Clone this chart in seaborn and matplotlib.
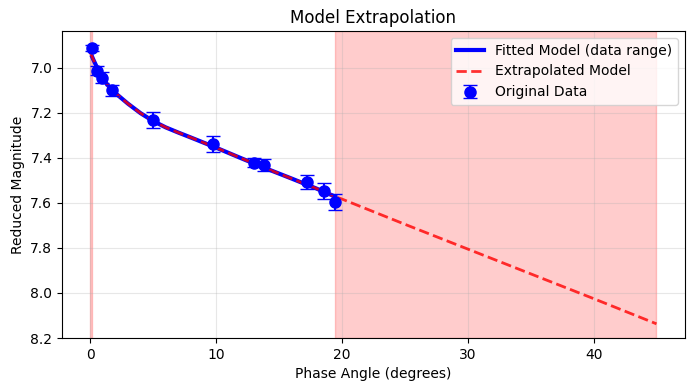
import matplotlib
matplotlib.use('agg')
import matplotlib.pyplot as plt
import seaborn as sns
import numpy as np

phase_angle = [0.15, 0.55, 0.9, 1.7, 4.96, 9.76, 13.0, 13.8, 17.2, 18.6, 19.45]
reduced_mag = [6.911, 7.013, 7.045, 7.100, 7.231, 7.338, 7.422, 7.432, 7.507, 7.547, 7.596]
mag_err = [0.013, 0.02, 0.025, 0.025, 0.036, 0.037, 0.02, 0.025, 0.03, 0.035, 0.037]

# Model curve
model_x = [0, 0.15, 0.25, 0.5, 1, 1.5, 2, 3, 4, 5, 6, 7, 8, 10, 12, 14, 16, 18,
           19.45, 20, 25, 30, 35, 40, 45]
model_y = [6.933, 6.952, 6.965, 6.995, 7.05, 7.085, 7.113, 7.16, 7.202, 7.237,
           7.265, 7.288, 7.31, 7.355, 7.402, 7.448, 7.492, 7.537,
           7.572, 7.583, 7.695, 7.805, 7.915, 8.025, 8.137]

x_min, x_max = min(phase_angle), max(phase_angle)
extrap_max = 45

fig, ax = plt.subplots(figsize=(6.91, 3.91), dpi=100)
fig.subplots_adjust(left=0.0897, right=0.991, top=0.9207, bottom=0.1355)

mx = np.array(model_x)
my = np.array(model_y)
inside = (mx >= x_min) & (mx <= x_max)

ax.errorbar(phase_angle, reduced_mag, yerr=mag_err, fmt='o', color='blue',
            markersize=8, capsize=5, label='Original Data', zorder=3)
sns.lineplot(x=mx[inside], y=my[inside], ax=ax, color='blue', linewidth=3,
             label='Fitted Model (data range)', zorder=2)
sns.lineplot(x=mx, y=my, ax=ax, color='red', linewidth=2, linestyle='--',
             alpha=0.8, label='Extrapolated Model', zorder=2)

# extrapolation regions
ax.axvspan(0, x_min, color='red', alpha=0.2)
ax.axvspan(x_max, extrap_max, color='red', alpha=0.2)

ax.set_ylim(8.2, 6.837)
ax.set_xlabel('Phase Angle (degrees)')
ax.set_ylabel('Reduced Magnitude')
ax.set_title('Model Extrapolation')
ax.grid(True, alpha=0.3)
ax.legend(loc='upper right')

plt.savefig('out.png', dpi=100)
